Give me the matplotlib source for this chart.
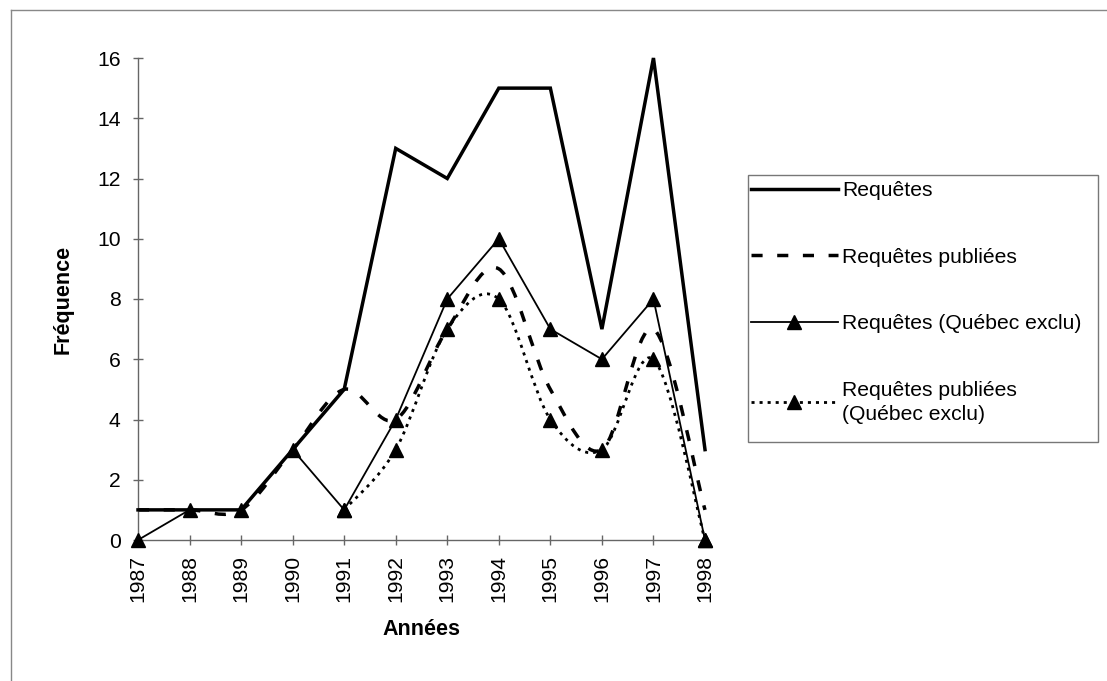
import numpy as np
import matplotlib
matplotlib.use("Agg")
import matplotlib.pyplot as plt
from matplotlib.path import Path
from matplotlib.patches import PathPatch, Rectangle
from matplotlib.lines import Line2D

plt.rcParams['font.family'] = ['Liberation Sans', 'DejaVu Sans']

nan = float('nan')
years = [1987, 1988, 1989, 1990, 1991, 1992, 1993, 1994, 1995, 1996, 1997, 1998]
requetes = [1, 1, 1, 3, 5, 13, 12, 15, 15, 7, 16, 3]
requetes_publiees = [1, 1, 1, 3, 5, 4, 7, 9, 5, 3, 7, 1]
requetes_qc_exclu = [0, 1, 1, 3, 1, 4, 8, 10, 7, 6, 8, 0]
publiees_qc_exclu = [nan, nan, nan, nan, 1, 3, 7, 8, 4, 3, 6, 0]

labels = ["Requêtes", "Requêtes publiées", "Requêtes (Québec exclu)",
          "Requêtes publiées\n(Québec exclu)"]
yticks = [0, 2, 4, 6, 8, 10, 12, 14, 16]


def smooth_path(xs, ys):
    xs = np.asarray(xs, float)
    ys = np.asarray(ys, float)
    ok = ~np.isnan(ys)
    pts = np.column_stack([xs[ok], ys[ok]])
    n = len(pts)
    verts = [pts[0]]
    codes = [Path.MOVETO]
    for i in range(n - 1):
        p0 = pts[i - 1] if i > 0 else pts[i]
        p1 = pts[i]
        p2 = pts[i + 1]
        p3 = pts[i + 2] if i + 2 < n else pts[i + 1]
        c1 = p1 + (p2 - p0) / 6.0
        c2 = p2 - (p3 - p1) / 6.0
        verts += [c1, c2, p2]
        codes += [Path.CURVE4] * 3
    return Path(np.array(verts), codes)


W, H = 1107, 681
fig = plt.figure(figsize=(W / 100, H / 100), dpi=100)
ax = fig.add_axes([138 / W, 1 - 540 / H, (705 - 138) / W, (540 - 58) / H])

FS = 15.2
lw_thick = 2.5
lw_thin = 1.3
dash_style = (0, (3.2, 4.2))
dot_style = (0, (1.1, 1.8))
lw_dot = 2.0
MS = 9.5

# Requêtes (thick solid)
ax.plot(years, requetes, color='black', lw=lw_thick, solid_joinstyle='miter',
        clip_on=False, zorder=3)
# Requêtes publiées (thick dashed, smoothed)
ax.add_patch(PathPatch(smooth_path(years, requetes_publiees), fill=False,
                       edgecolor='black', lw=lw_thick, linestyle=dash_style,
                       clip_on=False, zorder=2.5))
# Requêtes (Québec exclu) (thin solid with triangles)
ax.plot(years, requetes_qc_exclu, color='black', lw=lw_thin, marker='^',
        markersize=MS, clip_on=False, zorder=4)
# Requêtes publiées (Québec exclu) (dotted, smoothed, triangles)
ax.add_patch(PathPatch(smooth_path(years, publiees_qc_exclu), fill=False,
                       edgecolor='black', lw=lw_dot, linestyle=dot_style,
                       clip_on=False, zorder=2.4))
ax.plot(years, publiees_qc_exclu, linestyle='none', color='black', marker='^',
        markersize=MS, clip_on=False, zorder=5)

ax.set_xlim(1987, 1998)
ax.set_ylim(0, 16)
ax.set_xticks(years)
ax.set_xticklabels([str(y) for y in years], rotation=90, fontsize=FS)
ax.set_yticks(yticks)
ax.set_yticklabels([str(v) for v in yticks], fontsize=FS)

for s in ['top', 'right']:
    ax.spines[s].set_visible(False)
for s in ['left', 'bottom']:
    ax.spines[s].set_color('#666666')
    ax.spines[s].set_linewidth(1.0)
ax.tick_params(axis='both', direction='inout', length=7, width=1.0,
               color='#666666')
ax.tick_params(axis='x', pad=7)
ax.tick_params(axis='y', pad=9)

ax.set_ylabel("Fréquence", fontsize=15.5, fontweight='bold')
ax.set_xlabel("Années", fontsize=15.5, fontweight='bold')
ax.yaxis.set_label_coords((74 - 138) / 567, 0.5)
ax.xaxis.set_label_coords(0.5, (540 - 619) / 482)

# legend (frame drawn separately)
handles = [
    Line2D([], [], color='black', lw=lw_thick),
    Line2D([], [], color='black', lw=lw_thick, linestyle=dash_style),
    Line2D([], [], color='black', lw=lw_thin, marker='^', markersize=MS),
    Line2D([], [], color='black', lw=lw_dot, linestyle=dot_style,
           marker='^', markersize=MS),
]
leg = fig.legend(handles, labels, loc='upper left',
                 bbox_to_anchor=(749 / W, 1 - 179 / H), frameon=False,
                 fontsize=FS, handlelength=4.1, handletextpad=0.2,
                 labelspacing=2.25, borderpad=0.1, borderaxespad=0)
for t in leg.get_texts():
    t.set_linespacing(1.35)

fig.add_artist(Rectangle((748 / W, 1 - 442 / H), (1098 - 748) / W,
                         (442 - 175) / H, transform=fig.transFigure,
                         fill=False, edgecolor='#777777', lw=1.0))

# outer border
fig.add_artist(Line2D([11 / W, 11 / W], [0, 1 - 10 / H], transform=fig.transFigure,
                      color='#888888', lw=1.0))
fig.add_artist(Line2D([11 / W, 1], [1 - 10 / H, 1 - 10 / H], transform=fig.transFigure,
                      color='#888888', lw=1.0))

fig.savefig("out.png", dpi=100)
